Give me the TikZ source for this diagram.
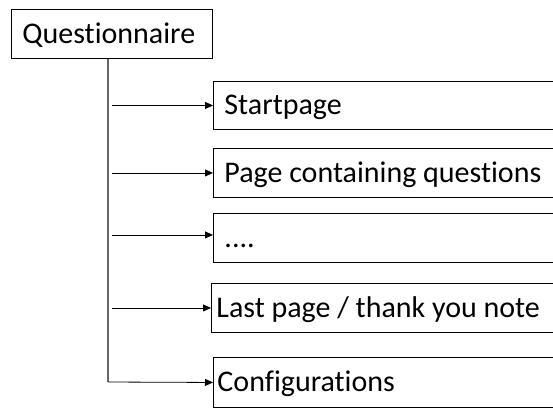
\documentclass[tikz,border=0pt]{standalone}
\usepackage{fontspec}
\setmainfont{Carlito}[Ligatures=NoCommon]
\usetikzlibrary{arrows.meta}
\begin{document}
\begin{tikzpicture}[x=1pt,y=-1pt,
  box/.style={draw=black, line width=0.9pt, rectangle, anchor=north west,
    align=flush left, inner ysep=0pt, text height=24pt, text depth=5pt,
    font=\fontsize{30}{34}\selectfont},
  child/.style={box, text width=400pt},
  trunkline/.style={draw=gray!80!black, line width=1.1pt},
  arr/.style={draw=black, line width=0.8pt, -{Triangle[length=8pt,width=7pt]}}]
\useasboundingbox (0,0) rectangle (553,408);
\clip (0,0) rectangle (553,408);
\node[box, inner xsep=11pt, text width=179pt, minimum height=49pt] (q) at (11,9) {Questionnaire};
\node[child, inner xsep=11pt, minimum height=48pt] (s) at (213,81) {Startpage};
\node[child, inner xsep=11pt, minimum height=49pt] (p) at (213,148) {Page containing questions};
\node[child, inner xsep=11pt, minimum height=49pt] (d) at (213,213) {....};
\node[child, inner xsep=5pt, minimum height=49pt] (l) at (211,283) {Last page / thank you note};
\node[child, inner xsep=4pt, minimum height=50pt] (c) at (213,357) {Configurations};
\coordinate (trunk) at (108,0);
\coordinate (sx) at (112,0);
\coordinate (bend) at (108,382);
\draw[trunkline] (q.south -| trunk) -- (bend);
\draw[arr] (s.west -| sx) -- (s.west);
\draw[arr] (p.west -| sx) -- (p.west);
\draw[arr] ([yshift=3pt]d.west -| sx) -- ([yshift=3pt]d.west);
\draw[arr] (l.west -| sx) -- (l.west);
\draw[arr] (bend) -- (c.west);
\end{tikzpicture}
\end{document}
